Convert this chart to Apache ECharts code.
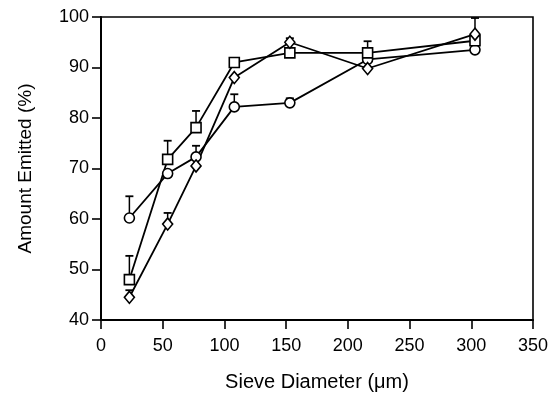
<!DOCTYPE html>
<html>
<head>
<meta charset="utf-8">
<script src="https://cdn.jsdelivr.net/npm/echarts@6/dist/echarts.min.js"></script>
<style>
html,body{margin:0;padding:0;background:#fff;}
#c{width:555px;height:397px;}
</style>
</head>
<body>
<div id="c"></div>
<script>
var sieveDiameters = [23, 54, 77, 108, 153, 216, 303];
var circleValues  = [60.2, 69.0, 72.3, 82.2, 83.0, 91.6, 93.5];
var circleUpper   = [64.5, null, 74.5, 84.7, 83.9, null, null];
var squareValues  = [48.0, 71.8, 78.1, 91.0, 92.9, 92.9, 95.3];
var squareUpper   = [52.7, 75.5, 81.4, null, 93.6, 95.2, 99.8];
var diamondValues = [44.5, 59.0, 70.5, 88.0, 95.0, 89.8, 96.6];
var diamondUpper  = [45.9, 61.2, null, null, 95.8, null, null];
var xTicks = [0, 50, 100, 150, 200, 250, 300, 350];
var yTicks = [40, 50, 60, 70, 80, 90, 100];

function pairs(vals) {
  return sieveDiameters.map(function (x, i) { return [x, vals[i]]; });
}
function errData(vals, ups) {
  var out = [];
  sieveDiameters.forEach(function (x, i) {
    if (ups[i] != null) out.push([x, vals[i], ups[i]]);
  });
  return out;
}
function errSeries(vals, ups) {
  return {
    type: 'custom',
    z: 1,
    data: errData(vals, ups),
    encode: { x: 0, y: [1, 2] },
    renderItem: function (params, api) {
      var p0 = api.coord([api.value(0), api.value(1)]);
      var p1 = api.coord([api.value(0), api.value(2)]);
      return {
        type: 'group',
        children: [
          { type: 'line', shape: { x1: p0[0], y1: p0[1], x2: p1[0], y2: p1[1] },
            style: { stroke: '#000', lineWidth: 1.5 } },
          { type: 'line', shape: { x1: p1[0] - 4, y1: p1[1], x2: p1[0] + 4, y2: p1[1] },
            style: { stroke: '#000', lineWidth: 1.8 } }
        ]
      };
    }
  };
}
function lineSeries(vals, symbol, size) {
  return {
    type: 'line',
    z: 3,
    data: pairs(vals),
    symbol: symbol,
    symbolSize: size,
    showAllSymbol: true,
    lineStyle: { color: '#000', width: 1.8 },
    itemStyle: { color: '#fff', borderColor: '#000', borderWidth: 1.6 },
    emphasis: { disabled: true }
  };
}

var chart = echarts.init(document.getElementById('c'));
var font = 'Liberation Sans, Arial, sans-serif';
chart.setOption({
  animation: false,
  backgroundColor: '#fff',
  grid: {
    left: 101, right: 22, top: 17, bottom: 74,
    show: true, borderColor: '#000', borderWidth: 1.6, backgroundColor: 'transparent'
  },
  xAxis: {
    type: 'value', min: 0, max: 350, interval: 50,
    name: 'Sieve Diameter (\u03bcm)', nameLocation: 'middle', nameGap: 52,
    nameTextStyle: { color: '#000', fontSize: 20, fontFamily: font },
    axisLine: { lineStyle: { color: '#000', width: 2 } },
    axisTick: { show: true, length: 9, lineStyle: { color: '#000', width: 1.6 } },
    axisLabel: { color: '#000', fontSize: 18, fontFamily: font, margin: 17,
      formatter: function (v) { return xTicks.indexOf(v) >= 0 ? String(v) : ''; } },
    splitLine: { show: false }
  },
  yAxis: {
    type: 'value', min: 40, max: 100, interval: 10,
    name: 'Amount Emitted (%)', nameLocation: 'middle', nameGap: 66,
    nameTextStyle: { color: '#000', fontSize: 19, fontFamily: font },
    axisLine: { show: true, lineStyle: { color: '#000', width: 2 } },
    axisTick: { show: true, length: 9, lineStyle: { color: '#000', width: 1.6 } },
    axisLabel: { color: '#000', fontSize: 18, fontFamily: font, margin: 12,
      formatter: function (v) { return yTicks.indexOf(v) >= 0 ? String(v) : ''; } },
    splitLine: { show: false }
  },
  series: [
    errSeries(circleValues, circleUpper),
    errSeries(squareValues, squareUpper),
    errSeries(diamondValues, diamondUpper),
    lineSeries(circleValues, 'circle', 10),
    lineSeries(squareValues, 'rect', 10),
    lineSeries(diamondValues, 'diamond', [10, 12])
  ]
});
</script>
</body>
</html>
